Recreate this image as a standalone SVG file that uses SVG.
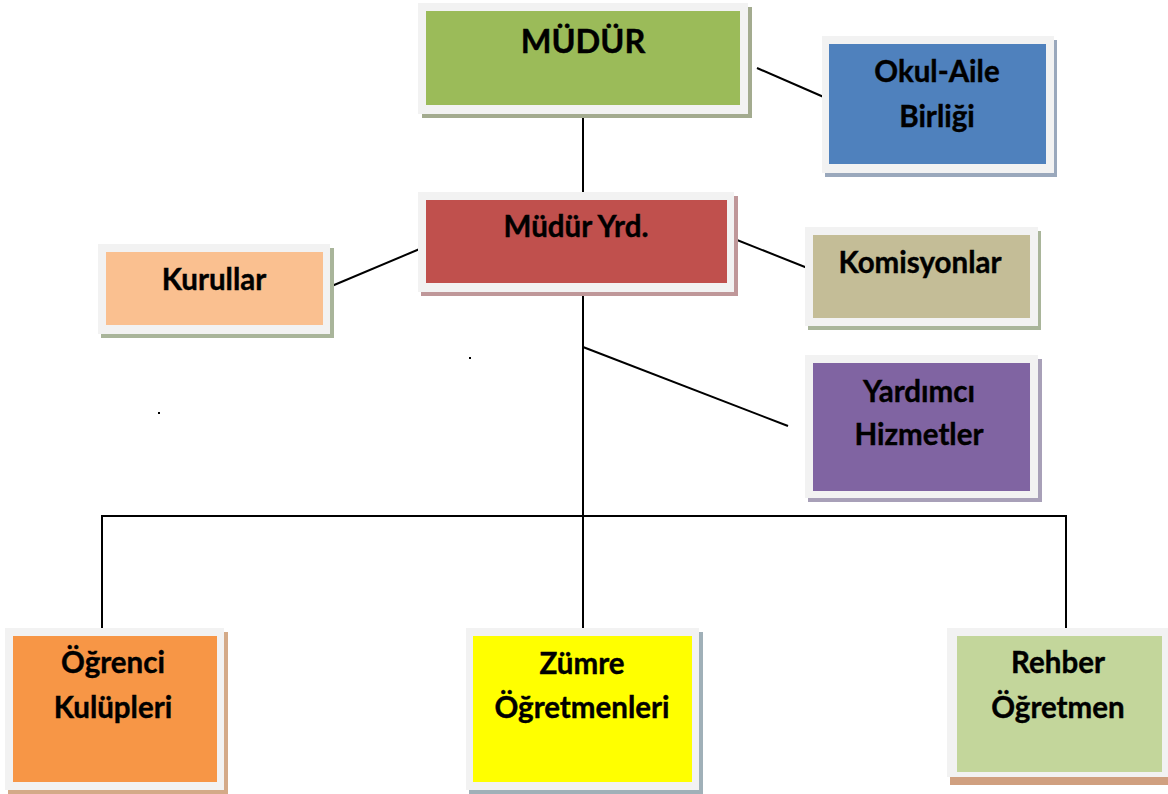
<svg xmlns="http://www.w3.org/2000/svg" width="1168" height="794" viewBox="0 0 1168 794">
<style>
.frame{fill:#f2f2f2}
.t{font-family:Lato,"Open Sans","Liberation Sans",sans-serif;font-weight:bold;font-size:29.5px;fill:#000;text-anchor:middle;stroke:#000;stroke-width:0.4}
.big{font-size:32.5px}
.ln{stroke:#000;stroke-width:2;fill:none}
</style>
<rect width="1168" height="794" fill="#fff"/>
<g id="connectors">
<line class="ln" x1="583" y1="118" x2="583" y2="196"/>
<line class="ln" x1="757" y1="68" x2="826" y2="98"/>
<line class="ln" x1="422" y1="248" x2="327" y2="288"/>
<line class="ln" x1="732" y1="238" x2="810" y2="269"/>
<line class="ln" x1="583" y1="290" x2="583" y2="630"/>
<line class="ln" x1="583" y1="347" x2="788" y2="426"/>
<polyline class="ln" points="102,630 102,516 1066,516 1066,632"/>
</g>
<g id="mudur">
<rect x="422" y="7" width="330" height="111" fill="#a3ab8f"/>
<rect class="frame" x="418" y="3" width="330" height="111"/>
<rect x="426" y="11" width="314" height="94" fill="#9bbb59"/>
<text class="t big" x="583" y="53">MÜDÜR</text>
</g>
<g id="okul-aile">
<rect x="825" y="40" width="232" height="137" fill="#9aa8bc"/>
<rect class="frame" x="822" y="36" width="232" height="137"/>
<rect x="829" y="44" width="217" height="120" fill="#4f81bd"/>
<text class="t" x="937" y="82">Okul-Aile</text>
<text class="t" x="937" y="127">Birliği</text>
</g>
<g id="kurullar">
<rect x="101" y="248" width="233" height="90" fill="#a9b59a"/>
<rect class="frame" x="98" y="244" width="232" height="90"/>
<rect x="106" y="252" width="217" height="73" fill="#fac090"/>
<text class="t" x="214" y="290">Kurullar</text>
</g>
<g id="mudur-yrd">
<rect x="421" y="196" width="317" height="100" fill="#bf9799"/>
<rect class="frame" x="418" y="192" width="316" height="100"/>
<rect x="426" y="200" width="301" height="83" fill="#c0504d"/>
<text class="t" x="576" y="237">Müdür Yrd.</text>
</g>
<g id="komisyonlar">
<rect x="808" y="231" width="233" height="99" fill="#a9b59a"/>
<rect class="frame" x="805" y="227" width="233" height="99"/>
<rect x="813" y="235" width="217" height="83" fill="#c4bd97"/>
<text class="t" x="920" y="273">Komisyonlar</text>
</g>
<g id="yardimci">
<rect x="808" y="359" width="234" height="143" fill="#a8a0b8"/>
<rect class="frame" x="805" y="355" width="233" height="143"/>
<rect x="813" y="363" width="217" height="128" fill="#8064a2"/>
<text class="t" x="919" y="402">Yardımcı</text>
<text class="t" x="919" y="445">Hizmetler</text>
</g>
<g id="ogrenci">
<rect x="8" y="632" width="220" height="162" fill="#d4aa88"/>
<rect class="frame" x="5" y="628" width="219" height="162"/>
<rect x="13" y="636" width="204" height="146" fill="#f79646"/>
<text class="t" x="113" y="673">Öğrenci</text>
<text class="t" x="113" y="718">Kulüpleri</text>
</g>
<g id="zumre">
<rect x="469" y="632" width="234" height="162" fill="#a0b0b8"/>
<rect class="frame" x="466" y="628" width="233" height="162"/>
<rect x="473" y="636" width="219" height="146" fill="#ffff00"/>
<text class="t" x="582" y="674">Zümre</text>
<text class="t" x="582" y="718">Öğretmenleri</text>
</g>
<g id="rehber">
<rect x="950" y="632" width="220" height="153" fill="#d0a080"/>
<rect class="frame" x="947" y="628" width="223" height="149"/>
<rect x="957" y="636" width="205" height="136" fill="#c3d69b"/>
<text class="t" x="1058" y="673">Rehber</text>
<text class="t" x="1058" y="718">Öğretmen</text>
</g>
<rect x="469" y="357" width="2" height="2" fill="#000"/>
<rect x="158" y="412" width="2" height="2" fill="#000"/>
</svg>
